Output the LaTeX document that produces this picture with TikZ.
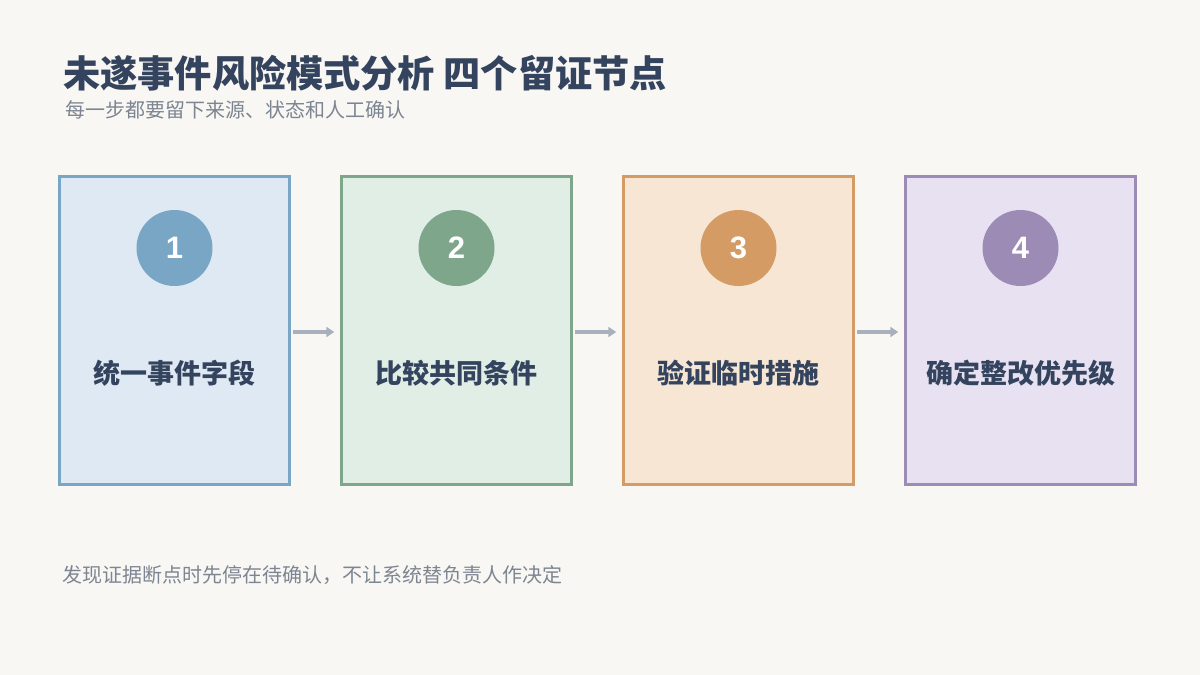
\documentclass[tikz,border=0pt]{standalone}
\usepackage{fontspec}
\setmainfont{Noto Sans CJK SC}
\newfontfamily\numfont{Liberation Sans}
\usetikzlibrary{arrows.meta}
\definecolor{bg}{HTML}{F9F7F4}
\definecolor{titlec}{HTML}{34445E}
\definecolor{subc}{HTML}{7C8591}
\definecolor{arrowc}{HTML}{A7B0BC}
\definecolor{fA}{HTML}{DFE9F3}\definecolor{bA}{HTML}{7AA6C6}
\definecolor{fB}{HTML}{E1EEE6}\definecolor{bB}{HTML}{7DA68B}
\definecolor{fC}{HTML}{F7E6D3}\definecolor{bC}{HTML}{D49C64}
\definecolor{fD}{HTML}{E8E1F1}\definecolor{bD}{HTML}{9B8BB5}
\tikzset{
  stepbox/.style={draw=#1, line width=2.5pt, minimum width=230pt, minimum height=308pt, inner sep=0pt},
  numcirc/.style={circle, fill=#1, minimum size=76pt, inner sep=0pt, text=white, font=\numfont\bfseries\fontsize{31}{31}\selectfont},
  boxlabel/.style={text=titlec, font=\bfseries\fontsize{27}{27}\selectfont, anchor=center},
  flow/.style={draw=arrowc, line width=4pt, -{Triangle[length=8pt,width=10pt]}, shorten <=2pt, shorten >=6pt},
}
\begin{document}
\begin{tikzpicture}[x=1pt,y=-1pt]
\useasboundingbox[fill=bg] (0,0) rectangle (1200,675);
\node[anchor=west, text=titlec, font=\bfseries\fontsize{37.2}{37}\selectfont, inner sep=0pt] (title) at (63,73) {未遂事件风险模式分析 四个留证节点};
\node[anchor=west, text=subc, font=\fontsize{20}{20}\selectfont, inner sep=0pt] (sub) at (65,110) {每一步都要留下来源、状态和人工确认};
\node[anchor=west, text=subc, font=\fontsize{20}{20}\selectfont, inner sep=0pt] (foot) at (62,575) {发现证据断点时先停在待确认，不让系统替负责人作决定};
\foreach \i/\x/\c in {1/174.5/A,2/456.5/B,3/738.5/C,4/1020.5/D}{
  \node[stepbox=b\c, fill=f\c] (box\i) at (\x,330.5) {};
  \node[numcirc=b\c] (num\i) at (\x,248) {\i};
}
\node[boxlabel] (lab1) at (174.5,373) {统一事件字段};
\node[boxlabel] (lab2) at (456.5,373) {比较共同条件};
\node[boxlabel] (lab3) at (738.5,373) {验证临时措施};
\node[boxlabel] (lab4) at (1020.5,373) {确定整改优先级};
\coordinate (a1s) at (box1.east |- 0,332); \coordinate (a1e) at (box2.west |- 0,332);
\coordinate (a2s) at (box2.east |- 0,332); \coordinate (a2e) at (box3.west |- 0,332);
\coordinate (a3s) at (box3.east |- 0,332); \coordinate (a3e) at (box4.west |- 0,332);
\draw[flow] (a1s) -- (a1e);
\draw[flow] (a2s) -- (a2e);
\draw[flow] (a3s) -- (a3e);
\end{tikzpicture}
\end{document}
